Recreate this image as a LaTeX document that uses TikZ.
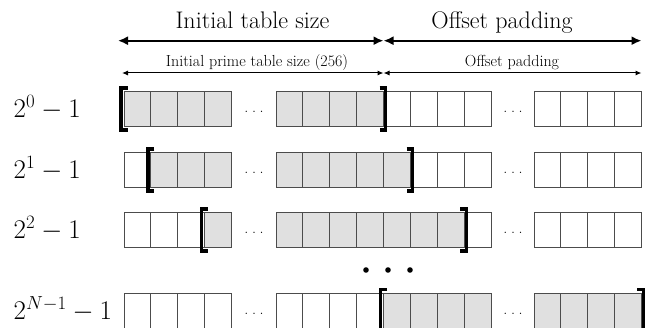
\RequirePackage{fix-cm}
\documentclass[tikz,border=0pt]{standalone}
\usetikzlibrary{arrows.meta}
\definecolor{cellgray}{gray}{0.88}
\definecolor{cellline}{gray}{0.3}
\newcommand{\rowdots}{.\kern3.6pt.\kern3.6pt.}
\tikzset{
  cellbox/.style={draw=cellline, line width=0.9pt, minimum width=26.9pt, minimum height=35pt, anchor=north west, inner sep=0pt, outer sep=0pt},
  bracketline/.style={line width=3.5pt, line cap=butt, line join=miter, black},
  bigarrow/.style={line width=1.8pt, {Latex[length=10pt,width=9pt]}-{Latex[length=10pt,width=9pt]}},
  smallarrow/.style={line width=1pt, {Latex[length=6pt,width=5pt]}-{Latex[length=6pt,width=5pt]}},
  bigtext/.style={font=\fontsize{24}{28}\selectfont, anchor=base, inner sep=0pt},
  smalltext/.style={font=\fontsize{16}{19}\selectfont, anchor=base, inner sep=0pt},
  rowlabel/.style={font=\fontsize{27}{32}\selectfont, anchor=west, inner sep=0pt},
  dotsnode/.style={font=\fontsize{16}{18}\selectfont, anchor=center, inner sep=0pt},
}
\begin{document}
\begin{tikzpicture}[x=1pt,y=-1pt]
\useasboundingbox (0,0) rectangle (647,328);
\clip (0,0) rectangle (647,328);
% top labels and arrows
\node[bigtext] (t1) at (252.5,28.3) {Initial table size};
\node[bigtext] (t2) at (502,28.3) {Offset padding};
\coordinate (a1) at (118,40.7);
\coordinate (a2) at (383.5,40.7);
\coordinate (a3) at (641.5,40.7);
\draw[bigarrow] (a1) -- (a2);
\draw[bigarrow] (a2) -- (a3);
\node[smalltext] (s1) at (257,67) {Initial prime table size (256)};
\node[smalltext] (s2) at (512,67) {Offset padding};
\coordinate (b1) at (122,73);
\coordinate (b2) at (383.5,73);
\coordinate (b3) at (641.5,73);
\draw[smallarrow] (b1) -- (b2);
\draw[smallarrow] (b2) -- (b3);
% rows
\foreach \r/\top/\s/\e/\lab in {0/91.5/0/7/{2^0-1}, 1/152.5/1/8/{2^1-1}, 2/212.5/3/10/{2^2-1}, 3/293/8/15/{2^{N-1}-1}} {
  \foreach \i in {0,...,15} {
    \pgfmathsetmacro{\cx}{\i<4 ? 124+\i*26.9 : (\i<12 ? 276+(\i-4)*26.9 : 534+(\i-12)*26.85)}
    \pgfmathtruncatemacro{\isg}{(\i>=\s && \i<=\e) ? 1 : 0}
    \ifnum\isg=1 \def\cf{cellgray}\else\def\cf{white}\fi
    \node[cellbox, fill=\cf] (c\r-\i) at (\cx,\top) {};
  }
  \draw[bracketline] ([shift={(3.5pt,3.5pt)}]c\r-\s.north west) -- ([shift={(-3pt,3.5pt)}]c\r-\s.north west) -- ([shift={(-3pt,-3.5pt)}]c\r-\s.south west) -- ([shift={(3.5pt,-3.5pt)}]c\r-\s.south west);
  \draw[bracketline] ([shift={(-4pt,3.5pt)}]c\r-\e.north east) -- ([shift={(2pt,3.5pt)}]c\r-\e.north east) -- ([shift={(2pt,-3.5pt)}]c\r-\e.south east) -- ([shift={(-4pt,-3.5pt)}]c\r-\e.south east);
  \pgfmathsetmacro{\dy}{\top+17.5+3}
  \node[dotsnode] (dl\r) at (254,\dy) {\rowdots};
  \node[dotsnode] (dr\r) at (513,\dy) {\rowdots};
  \pgfmathsetmacro{\ly}{\top+16}
  \node[rowlabel] (l\r) at (13.5,\ly) {$\lab$};
}
% vertical ellipsis between rows
\fill (366,270) circle[radius=2.8pt];
\fill (388,270) circle[radius=2.8pt];
\fill (410,270) circle[radius=2.8pt];
\end{tikzpicture}
\end{document}
